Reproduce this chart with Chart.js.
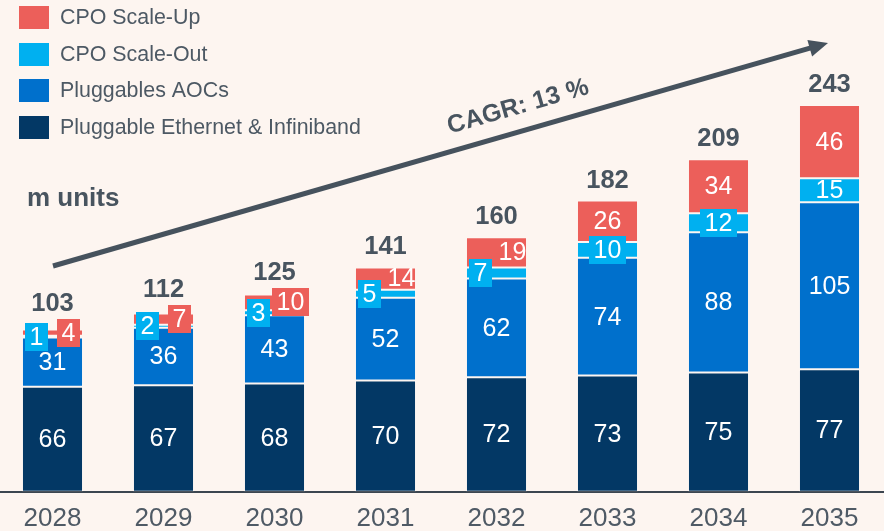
<!DOCTYPE html>
<html><head><meta charset="utf-8">
<script src="https://cdn.jsdelivr.net/npm/chart.js@4"></script>
<style>
html,body{margin:0;padding:0;background:#fdf5f0;width:884px;height:531px;overflow:hidden;}
#wrap{position:absolute;left:-3px;top:0;width:888px;height:546px;}
</style></head><body>
<div id="wrap"><canvas id="c" width="888" height="546"></canvas></div>
<script>
// ---- data ----
const years = ['2028','2029','2030','2031','2032','2033','2034','2035'];
const ethernetIB = [66, 67, 68, 70, 72, 73, 75, 77];
const aocs = [31, 36, 43, 52, 62, 74, 88, 105];
const cpoScaleOut = [1, 2, 3, 5, 7, 10, 12, 15];
const cpoScaleUp = [4, 7, 10, 14, 19, 26, 34, 46];
const totals = [103, 112, 125, 141, 160, 182, 209, 243];
const seriesNames = ['Pluggable Ethernet & Infiniband', 'Pluggables AOCs', 'CPO Scale-Out', 'CPO Scale-Up'];
const unitLabel = 'm units';
const cagrLabel = 'CAGR: 13 %';

// ---- styles ----
const colors = ['#033865', '#0070cc', '#00b0f0', '#ec5f5a'];
const textGray = '#48545f';
const FONT = 'Arial, "Liberation Sans", sans-serif';

const overlay = {
  id: 'overlay',
  afterDatasetsDraw(chart) {
    const ctx = chart.ctx;
    const metas = [0,1,2,3].map(i => chart.getDatasetMeta(i));
    ctx.save();
    ctx.textAlign = 'center';
    ctx.textBaseline = 'middle';
    ctx.font = '25px ' + FONT;
    const boxH = 28, maxBoxSeg = 21, shift = 16;
    years.forEach((y, j) => {
      for (let i = 0; i < 2; i++) {
        const b = metas[i].data[j];
        ctx.fillStyle = '#ffffff';
        ctx.fillText(String(chart.data.datasets[i].data[j]), b.x, (b.y + b.base) / 2 + 1);
      }
      const bo = metas[2].data[j], bu = metas[3].data[j];
      const co = (bo.y + bo.base) / 2, cu = (bu.y + bu.base) / 2;
      const overlap = (co - cu) < boxH;
      const items = [
        {b: bo, c: co, i: 2, dx: overlap ? -shift : 0},
        {b: bu, c: cu, i: 3, dx: overlap ? shift : 0}
      ];
      let upBoxTop = null;
      items.forEach(it => {
        const txt = String(chart.data.datasets[it.i].data[j]);
        const h = it.b.base - it.b.y;
        const x = it.b.x + it.dx;
        if (h < maxBoxSeg) {
          const w = ctx.measureText(txt).width + 9;
          ctx.fillStyle = colors[it.i];
          ctx.fillRect(Math.round(x - w / 2), Math.round(it.c - boxH / 2), Math.round(w), boxH);
          if (it.i === 3) upBoxTop = it.c - boxH / 2;
        }
        ctx.fillStyle = '#ffffff';
        ctx.fillText(txt, x, it.c + 1);
      });
      const barTop = bu.y;
      let ty = barTop - 20;
      if (upBoxTop !== null) ty = Math.min(upBoxTop - 15, barTop - 20);
      ctx.font = 'bold 25.5px ' + FONT;
      ctx.fillStyle = textGray;
      ctx.fillText(String(totals[j]), bu.x, ty);
      ctx.font = '25px ' + FONT;
    });
    ctx.restore();
  },
  afterDraw(chart) {
    const ctx = chart.ctx;
    ctx.save();
    ctx.translate(3, 0); // page coordinates
    ctx.font = '21.4px ' + FONT;
    ctx.textAlign = 'left';
    ctx.textBaseline = 'middle';
    [3,2,1,0].forEach((si, k) => {
      const top = 6 + k * 36.5;
      ctx.fillStyle = colors[si];
      ctx.fillRect(19, Math.round(top), 30, 23);
      ctx.fillStyle = '#4d5964';
      ctx.fillText(seriesNames[si], 60, Math.round(top) + 12);
    });
    ctx.font = 'bold 26px ' + FONT;
    ctx.fillStyle = textGray;
    ctx.fillText(unitLabel, 27, 199);
    const x0 = 53, y0 = 266, x1 = 828, y1 = 43;
    const ang = Math.atan2(y1 - y0, x1 - x0);
    const headL = 19, headW = 8.5;
    const bx = x1 - headL * Math.cos(ang), by = y1 - headL * Math.sin(ang);
    ctx.strokeStyle = '#46525d';
    ctx.lineWidth = 5;
    ctx.beginPath();
    ctx.moveTo(x0, y0);
    ctx.lineTo(bx + 2 * Math.cos(ang), by + 2 * Math.sin(ang));
    ctx.stroke();
    ctx.fillStyle = '#46525d';
    ctx.beginPath();
    ctx.moveTo(x1, y1);
    ctx.lineTo(bx + headW * Math.sin(ang), by - headW * Math.cos(ang));
    ctx.lineTo(bx - headW * Math.sin(ang), by + headW * Math.cos(ang));
    ctx.closePath();
    ctx.fill();
    ctx.translate(518, 107);
    ctx.rotate(ang);
    ctx.font = 'bold 25px ' + FONT;
    ctx.textAlign = 'center';
    ctx.fillStyle = textGray;
    ctx.fillText(cagrLabel, 0, 0);
    ctx.restore();
  }
};

const datasets = [ethernetIB, aocs, cpoScaleOut, cpoScaleUp].map((d, i) => ({
  label: seriesNames[i],
  data: d,
  backgroundColor: colors[i],
  borderColor: 'rgba(255,255,255,0.18)',
  borderWidth: 1,
  borderSkipped: false,
  categoryPercentage: 1,
  barPercentage: 0.55
}));

new Chart(document.getElementById('c'), {
  type: 'bar',
  data: { labels: years, datasets },
  options: {
    responsive: false,
    animation: false,
    devicePixelRatio: 1,
    layout: { padding: { top: 0, left: 0, right: 0, bottom: 0 } },
    plugins: { legend: { display: false }, tooltip: { enabled: false } },
    scales: {
      x: {
        stacked: true,
        grid: { display: false, drawTicks: false },
        border: { display: true, color: '#3c4650', width: 2 },
        ticks: { color: '#4f5a65', font: { family: FONT, size: 26 }, padding: 11.5 }
      },
      y: { stacked: true, display: false, min: 0, max: 309 }
    }
  },
  plugins: [overlay]
});
</script>
</body></html>
